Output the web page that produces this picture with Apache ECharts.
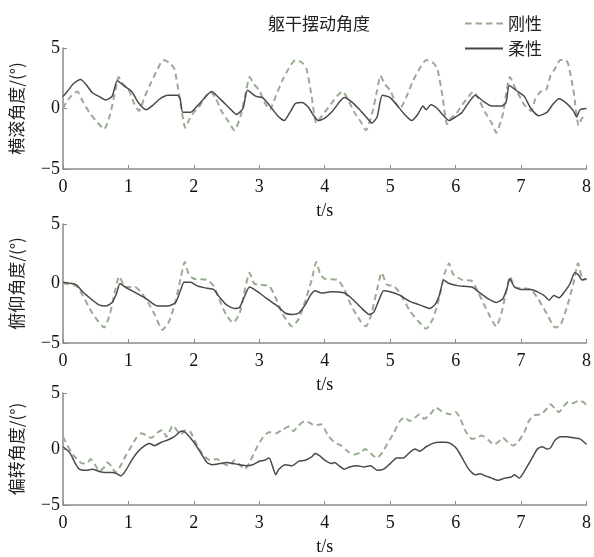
<!DOCTYPE html>
<html><head><meta charset="utf-8">
<script src="https://cdn.jsdelivr.net/npm/echarts@6/dist/echarts.min.js"></script>
<style>html,body{margin:0;padding:0;background:#fff}#c{width:594px;height:557px}</style>
</head><body><div id="c"></div>
<script>
var seriesNames = ['刚性', '柔性'];
var yNames = ['横滚角度/(°)', '俯仰角度/(°)', '偏转角度/(°)'];
var titleText = '躯干摆动角度';
var xName = 't/s';

var rollRigid = [[0,0.0],[0.05,0.5],[0.12,1.0],[0.22,1.4],[0.3,0.6],[0.4,-0.3],[0.5,-1.0],[0.63,-1.7],[0.72,-0.5],[0.8,1.5],[0.85,2.6],[0.92,2.0],[1.0,1.6],[1.08,0.5],[1.16,-0.2],[1.25,1.0],[1.35,2.2],[1.45,3.3],[1.53,4.0],[1.62,3.8],[1.7,3.3],[1.78,1.0],[1.87,-1.6],[1.93,-0.9],[2.0,-0.3],[2.1,0.3],[2.18,1.0],[2.25,1.4],[2.33,0.9],[2.42,-0.2],[2.52,-1.0],[2.62,-1.8],[2.72,-0.5],[2.8,1.5],[2.85,2.6],[2.92,2.0],[3.0,1.5],[3.08,0.5],[3.16,-0.1],[3.25,1.0],[3.35,2.3],[3.45,3.3],[3.55,4.0],[3.65,3.8],[3.72,3.3],[3.8,1.0],[3.87,-1.2],[3.93,-0.8],[4.0,-0.3],[4.1,0.4],[4.2,1.1],[4.27,1.4],[4.35,0.8],[4.45,-0.3],[4.55,-1.1],[4.63,-1.8],[4.72,-0.5],[4.8,1.5],[4.85,2.7],[4.92,2.0],[5.0,1.5],[5.08,0.5],[5.15,0.0],[5.25,1.0],[5.35,2.3],[5.45,3.3],[5.55,4.0],[5.65,3.8],[5.72,3.3],[5.8,1.0],[5.87,-1.3],[5.93,-0.8],[6.0,-0.5],[6.1,0.3],[6.2,1.0],[6.27,1.4],[6.35,0.8],[6.45,-0.3],[6.55,-1.2],[6.62,-2.0],[6.72,-0.5],[6.78,1.5],[6.83,2.6],[6.9,1.8],[6.95,1.3],[7.05,0.3],[7.15,-0.2],[7.22,0.8],[7.3,1.4],[7.38,1.5],[7.45,2.7],[7.52,3.3],[7.6,4.0],[7.68,4.0],[7.72,3.7],[7.8,1.5],[7.88,-1.4],[7.93,-0.8],[8.0,-0.5]];

var rollFlex = [[0,1.0],[0.08,1.5],[0.15,2.0],[0.27,2.4],[0.35,2.0],[0.45,1.3],[0.55,1.0],[0.65,0.7],[0.75,1.0],[0.83,2.3],[0.95,1.8],[1.05,1.4],[1.15,0.5],[1.27,-0.1],[1.38,0.3],[1.48,0.8],[1.6,1.1],[1.75,1.1],[1.79,0.8],[1.83,-0.3],[1.95,-0.3],[2.0,-0.1],[2.12,0.6],[2.27,1.4],[2.38,0.9],[2.55,0.0],[2.65,-0.5],[2.75,0.0],[2.82,1.5],[2.95,1.0],[3.05,0.9],[3.15,0.3],[3.28,-0.6],[3.38,-1.0],[3.47,-0.3],[3.55,0.4],[3.65,0.5],[3.75,0.1],[3.82,-0.5],[3.9,-1.0],[4.0,-0.8],[4.12,-0.2],[4.3,0.9],[4.42,0.5],[4.55,-0.2],[4.65,-0.8],[4.72,-1.2],[4.8,-0.7],[4.88,1.1],[5.0,0.9],[5.1,0.3],[5.22,-0.5],[5.33,-1.0],[5.42,-0.5],[5.5,0.2],[5.55,-0.1],[5.62,0.3],[5.72,0.0],[5.8,-0.5],[5.9,-1.0],[6.0,-0.7],[6.1,-0.3],[6.2,0.5],[6.3,1.1],[6.42,0.6],[6.55,0.2],[6.7,0.2],[6.77,0.5],[6.82,1.9],[6.95,1.4],[7.05,1.0],[7.15,0.0],[7.27,-0.6],[7.4,-0.3],[7.48,0.3],[7.58,0.8],[7.7,0.4],[7.8,-0.2],[7.85,-0.7],[7.9,-0.1],[8.0,0.0]];

var pitchRigid = [[0,0.0],[0.2,-0.2],[0.3,-1.0],[0.45,-2.5],[0.63,-3.7],[0.72,-2.5],[0.8,-0.5],[0.86,0.6],[0.95,-0.3],[1.1,-0.3],[1.2,-0.8],[1.3,-1.6],[1.4,-2.6],[1.52,-3.9],[1.62,-3.2],[1.72,-1.5],[1.8,0.5],[1.86,1.8],[1.92,0.8],[2.0,0.4],[2.2,0.3],[2.3,-0.2],[2.4,-1.5],[2.5,-2.7],[2.6,-3.3],[2.7,-2.5],[2.78,-0.5],[2.85,0.9],[2.92,0.0],[3.0,-0.1],[3.15,-0.2],[3.25,-1.2],[3.35,-2.5],[3.5,-3.6],[3.6,-3.0],[3.7,-1.5],[3.8,0.3],[3.87,1.8],[3.93,0.8],[4.0,0.4],[4.2,0.3],[4.3,-0.5],[4.4,-1.8],[4.55,-3.2],[4.63,-3.6],[4.7,-2.8],[4.8,-0.5],[4.87,0.9],[4.95,-0.1],[5.05,-0.2],[5.15,-0.8],[5.3,-2.3],[5.45,-3.3],[5.55,-3.8],[5.65,-3.0],[5.75,-1.2],[5.83,0.8],[5.9,1.7],[5.96,0.8],[6.1,0.3],[6.25,0.2],[6.35,-0.8],[6.5,-2.5],[6.62,-3.6],[6.7,-2.5],[6.78,-0.5],[6.83,0.6],[6.9,-0.3],[7.0,-0.4],[7.15,-0.5],[7.25,-1.2],[7.4,-2.6],[7.52,-3.7],[7.6,-3.5],[7.7,-2.0],[7.8,0.0],[7.87,1.7],[7.93,0.5],[8.0,0.3]];

var pitchFlex = [[0,0.1],[0.2,-0.1],[0.3,-0.7],[0.45,-1.4],[0.55,-1.8],[0.65,-1.9],[0.75,-1.6],[0.82,-0.8],[0.87,0.0],[0.95,-0.3],[1.05,-0.6],[1.15,-0.9],[1.25,-1.2],[1.35,-1.6],[1.45,-1.9],[1.6,-1.9],[1.72,-1.6],[1.8,-0.5],[1.85,0.1],[1.95,0.1],[2.05,-0.2],[2.2,-0.4],[2.3,-0.5],[2.4,-1.2],[2.5,-1.8],[2.62,-2.1],[2.7,-2.0],[2.78,-1.0],[2.85,-0.3],[2.95,-0.6],[3.1,-1.2],[3.2,-1.6],[3.3,-2.0],[3.4,-2.5],[3.5,-2.6],[3.6,-2.5],[3.7,-1.8],[3.78,-1.0],[3.85,-0.6],[3.95,-0.8],[4.1,-0.7],[4.3,-0.8],[4.42,-1.3],[4.55,-2.0],[4.68,-2.6],[4.75,-2.4],[4.82,-1.5],[4.9,-0.6],[5.0,-0.7],[5.15,-1.0],[5.3,-1.5],[5.4,-1.7],[5.5,-1.9],[5.6,-2.1],[5.68,-1.8],[5.75,-1.0],[5.82,0.3],[5.9,0.0],[6.05,-0.2],[6.25,-0.3],[6.35,-0.7],[6.5,-1.3],[6.62,-1.6],[6.72,-1.3],[6.78,-0.5],[6.83,0.4],[6.9,-0.3],[7.0,-0.5],[7.15,-0.5],[7.25,-0.7],[7.35,-1.0],[7.43,-1.4],[7.5,-1.0],[7.58,-1.2],[7.65,-0.8],[7.75,0.0],[7.82,0.9],[7.88,0.7],[7.93,0.3],[8.0,0.4]];

var yawRigid = [[0,1.1],[0.05,0.5],[0.15,-0.5],[0.25,-1.1],[0.3,-1.3],[0.38,-1.2],[0.42,-0.9],[0.5,-1.5],[0.55,-2.0],[0.62,-1.7],[0.68,-1.2],[0.75,-1.6],[0.8,-2.1],[0.88,-1.5],[0.95,-0.7],[1.05,0.3],[1.12,1.0],[1.2,1.4],[1.28,1.2],[1.35,1.0],[1.45,1.5],[1.52,1.7],[1.58,1.1],[1.68,2.1],[1.75,1.6],[1.8,1.3],[1.88,1.7],[1.95,1.5],[2.05,0.3],[2.15,-0.6],[2.25,-1.0],[2.35,-0.9],[2.45,-1.3],[2.55,-1.5],[2.62,-1.0],[2.7,-1.4],[2.78,-1.8],[2.85,-1.2],[2.95,0.0],[3.05,1.0],[3.15,1.5],[3.25,1.4],[3.35,1.7],[3.45,2.0],[3.52,1.6],[3.6,2.1],[3.7,2.5],[3.78,2.3],[3.85,2.1],[3.95,2.2],[4.05,1.2],[4.15,0.6],[4.25,0.3],[4.35,-0.2],[4.45,-0.5],[4.55,-0.3],[4.62,0.0],[4.7,-0.4],[4.8,-0.8],[4.88,-0.3],[4.95,0.4],[5.05,1.4],[5.15,2.5],[5.22,2.8],[5.3,2.5],[5.38,2.8],[5.45,3.1],[5.52,2.7],[5.6,3.0],[5.7,3.7],[5.78,3.4],[5.85,3.2],[5.92,3.1],[6.0,3.3],[6.08,2.6],[6.15,1.6],[6.25,0.9],[6.32,1.0],[6.4,1.2],[6.5,0.8],[6.58,0.4],[6.65,0.6],[6.72,1.0],[6.8,0.6],[6.88,0.3],[6.95,0.6],[7.05,1.5],[7.12,2.5],[7.2,3.0],[7.3,3.1],[7.38,3.5],[7.45,4.0],[7.52,3.6],[7.58,3.3],[7.65,3.8],[7.72,4.2],[7.8,4.1],[7.88,4.3],[7.95,4.2],[8.0,3.9]];

var yawFlex = [[0,0.2],[0.1,-0.3],[0.18,-1.2],[0.25,-1.8],[0.35,-1.9],[0.45,-1.8],[0.55,-2.0],[0.65,-2.1],[0.75,-2.1],[0.82,-2.2],[0.88,-2.4],[0.95,-2.0],[1.05,-1.0],[1.15,-0.2],[1.25,0.3],[1.32,0.5],[1.4,0.3],[1.5,0.6],[1.6,0.8],[1.7,1.1],[1.78,1.5],[1.83,1.6],[1.9,1.3],[2.0,0.6],[2.1,-0.3],[2.2,-1.2],[2.28,-1.4],[2.4,-1.3],[2.5,-1.2],[2.6,-1.3],[2.7,-1.4],[2.8,-1.5],[2.9,-1.4],[3.0,-1.1],[3.08,-1.0],[3.15,-0.8],[3.2,-1.5],[3.25,-2.3],[3.3,-1.8],[3.4,-1.4],[3.5,-1.5],[3.6,-1.1],[3.7,-1.0],[3.8,-0.7],[3.85,-0.4],[3.92,-0.6],[4.0,-1.0],[4.1,-1.3],[4.15,-1.2],[4.22,-1.5],[4.3,-1.8],[4.38,-1.6],[4.5,-1.5],[4.6,-1.6],[4.7,-1.5],[4.8,-1.9],[4.9,-1.8],[5.0,-1.3],[5.1,-0.8],[5.2,-0.8],[5.3,-0.3],[5.38,0.0],[5.45,-0.2],[5.55,0.2],[5.65,0.5],[5.75,0.6],[5.85,0.6],[5.95,0.4],[6.02,0.0],[6.1,-0.8],[6.2,-1.8],[6.3,-2.3],[6.38,-2.2],[6.45,-2.4],[6.55,-2.6],[6.65,-2.8],[6.75,-2.6],[6.85,-2.5],[6.9,-2.3],[6.97,-2.6],[7.05,-2.0],[7.15,-1.0],[7.25,0.0],[7.32,0.2],[7.4,0.0],[7.45,0.1],[7.52,0.8],[7.6,1.1],[7.7,1.1],[7.8,1.0],[7.9,0.9],[8.0,0.4]];

var rigidSets = [rollRigid, pitchRigid, yawRigid];
var flexSets = [rollFlex, pitchFlex, yawFlex];

var serif = '"Liberation Serif","Times New Roman",serif';
var cjk = '"Noto Sans CJK SC","Noto Sans",sans-serif';
var axisCol = '#8a8a8a';
var rigidCol = '#98ac92';
var flexCol = '#4a4a4a';

var grids = [
  {left: 58, right: 6, top: 48, height: 121},
  {left: 58, right: 6, top: 224, height: 119},
  {left: 58, right: 6, top: 393, height: 122}
];

var xAxes = [], yAxes = [], series = [];
for (var i = 0; i < 3; i++) {
  xAxes.push({
    type: 'value', gridIndex: i, min: 0, max: 8, interval: 1,
    name: xName, nameLocation: 'middle', nameGap: 33,
    nameTextStyle: {fontFamily: serif, fontSize: 18, color: '#111'},
    axisLine: {show: true, onZero: false, lineStyle: {color: axisCol, width: 1.5}},
    axisTick: {show: true, inside: true, length: 4, lineStyle: {color: axisCol}},
    axisLabel: {fontFamily: serif, fontSize: 18, color: '#111', margin: 9},
    splitLine: {show: false}
  });
  yAxes.push({
    type: 'value', gridIndex: i, min: -5, max: 5, interval: 5,
    name: yNames[i], nameLocation: 'middle', nameGap: 38,
    nameTextStyle: {fontFamily: cjk, fontSize: 17, color: '#222'},
    axisLine: {show: true, onZero: false, lineStyle: {color: axisCol, width: 1.5}},
    axisTick: {show: true, inside: true, length: 4, lineStyle: {color: axisCol}},
    axisLabel: {fontFamily: serif, fontSize: 18, color: '#111', margin: 3,
      formatter: function (v) { return String(v).replace('-', '\u2212'); }},
    splitLine: {show: false}
  });
  series.push({
    name: seriesNames[0], type: 'line', xAxisIndex: i, yAxisIndex: i,
    data: rigidSets[i], showSymbol: false, symbol: 'none', smooth: 0.2,
    lineStyle: {color: rigidCol, width: 2, type: [6, 4]}, itemStyle: {color: rigidCol},
    z: 2
  });
  series.push({
    name: seriesNames[1], type: 'line', xAxisIndex: i, yAxisIndex: i,
    data: flexSets[i], showSymbol: false, symbol: 'none', smooth: 0.2,
    lineStyle: {color: flexCol, width: 1.5}, itemStyle: {color: flexCol},
    z: 3
  });
}

var chart = echarts.init(document.getElementById('c'), null, {renderer: 'canvas'});
chart.setOption({
  animation: false,
  backgroundColor: '#fff',
  title: {text: titleText, left: 263, top: 10,
    textStyle: {fontFamily: cjk, fontSize: 17, fontWeight: 'normal', color: '#222'}},
  legend: {
    data: [
      {name: seriesNames[0], icon: 'path://M0,0h7v2h-7z M11,0h7v2h-7z M22,0h7v2h-7z M33,0h7v2h-7z',
       itemStyle: {color: rigidCol}},
      {name: seriesNames[1], icon: 'path://M0,0h40v2h-40z', itemStyle: {color: flexCol}}
    ],
    orient: 'vertical', left: 460, top: 10,
    itemWidth: 38, itemHeight: 2, itemGap: 8,
    textStyle: {fontFamily: cjk, fontSize: 17, color: '#222', lineHeight: 17}
  },
  grid: grids,
  xAxis: xAxes,
  yAxis: yAxes,
  series: series
});
</script>
</body></html>
